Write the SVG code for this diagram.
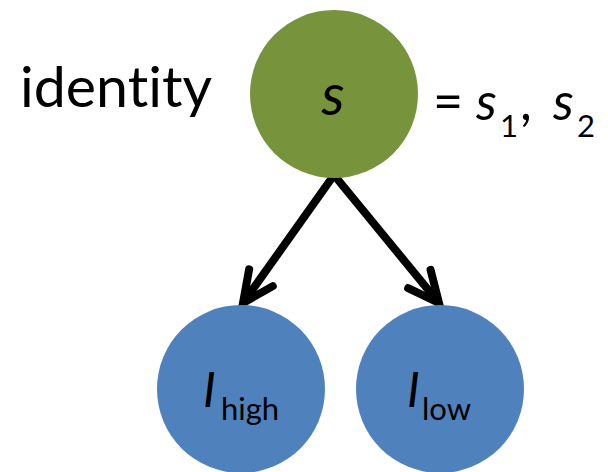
<svg xmlns="http://www.w3.org/2000/svg" width="608" height="472" viewBox="0 0 608 472">
  <defs>
    <style>
      .lbl { font-family: Lato, "Open Sans", "Liberation Sans", sans-serif; fill: #000; font-variant-ligatures: none; font-feature-settings: "liga" 0; }
      .var { font-style: italic; }
      .edge { stroke: #000; stroke-width: 8; fill: none; }
    </style>
    <marker id="arrow" markerUnits="userSpaceOnUse" viewBox="-40 -20 46 40" refX="0" refY="0" markerWidth="46" markerHeight="40" orient="auto" overflow="visible">
      <path d="M-31,-14.5 L0,0 L-31,14.5" fill="none" stroke="#000" stroke-width="8" stroke-linecap="round" stroke-linejoin="miter"/>
    </marker>
  </defs>
  <rect width="608" height="472" fill="#fff"/>

  <!-- side labels -->
  <text class="lbl" x="20" y="107" font-size="56" textLength="192" lengthAdjust="spacingAndGlyphs">identity</text>
  <text class="lbl" x="433" y="120" font-size="52">=</text>
  <text class="lbl" font-size="52"><tspan class="var" x="476" y="120">s</tspan><tspan x="500" y="137" font-size="31">1</tspan><tspan x="520" y="120">,</tspan><tspan class="var" x="553" y="120">s</tspan><tspan x="577" y="137" font-size="31">2</tspan></text>

  <!-- connectors -->
  <g id="edges">
    <line class="edge" x1="334" y1="175" x2="243" y2="303" marker-end="url(#arrow)"/>
    <line class="edge" x1="334" y1="175" x2="439" y2="303" marker-end="url(#arrow)"/>
  </g>

  <g id="node-s">
    <circle cx="334" cy="94" r="84" fill="#77933C"/>
    <text class="lbl var" x="333" y="115" font-size="58" text-anchor="middle">s</text>
  </g>

  <g id="node-Ihigh">
    <circle cx="241" cy="389" r="84" fill="#4F81BD"/>
    <text class="lbl" font-size="48"><tspan class="var" x="203" y="407">I</tspan><tspan x="221" y="420" font-size="31">high</tspan></text>
  </g>

  <g id="node-Ilow">
    <circle cx="440" cy="389" r="84" fill="#4F81BD"/>
    <text class="lbl" font-size="48"><tspan class="var" x="407" y="407">I</tspan><tspan x="422" y="420" font-size="31">low</tspan></text>
  </g>
</svg>
